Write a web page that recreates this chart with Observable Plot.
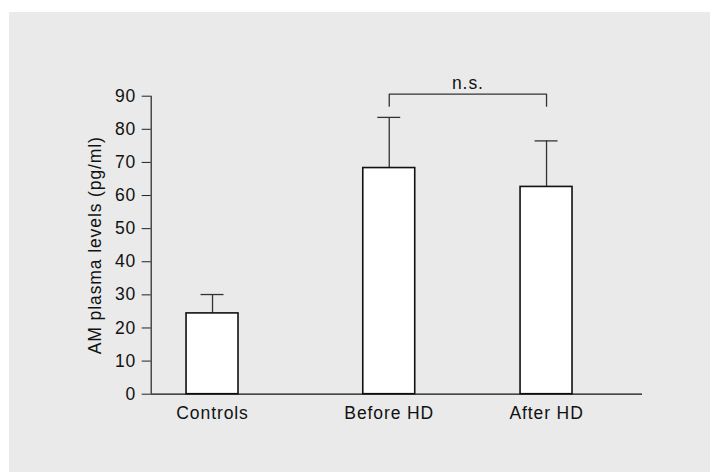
<!DOCTYPE html>
<html>
<head>
<meta charset="utf-8">
<script src="https://cdn.jsdelivr.net/npm/d3@7"></script>
<script src="https://cdn.jsdelivr.net/npm/@observablehq/plot@0.6"></script>
<style>
  html, body { margin: 0; padding: 0; background: #ffffff; }
  #wrap { position: absolute; left: 9px; top: 12px; width: 701px; height: 460px; background: #eaeaea; }
  svg { display: block; }
  #wrap svg text { font-size: 17.5px; letter-spacing: 0.9px; fill: #111; }
</style>
</head>
<body>
<div id="wrap"></div>
<script>
// Data
const groups = ["Controls", "Before HD", "After HD"];
const positions = [1, 2, 2.89];
const means = [24.4, 68.3, 62.6];
const sdUpper = [30.1, 83.6, 76.5];
const yTicks = [0, 10, 20, 30, 40, 50, 60, 70, 80, 90];
const compareFrom = 1, compareTo = 2;
const bracketLevel = 90.6, bracketDrop = 87, bracketLabel = "n.s.";
const yLabel = "AM plasma levels (pg/ml)";

const barHalf = 0.147, capHalf = 0.065;
const xDomain = [0.653, 3.433];

const rows = groups.map((g, i) => ({g, x: positions[i], m: means[i], hi: sdUpper[i]}));
const bx1 = positions[compareFrom], bx2 = positions[compareTo];

const chart = Plot.plot({
  width: 701,
  height: 460,
  marginLeft: 141.7,
  marginRight: 68,
  marginTop: 83.7,
  marginBottom: 78.3,
  style: {background: "transparent", fontFamily: "'Liberation Sans', Arial, sans-serif", fontSize: "17.5px", color: "#111"},
  x: {type: "linear", domain: xDomain},
  y: {domain: [0, 90]},
  marks: [
    // error bars
    Plot.ruleX(rows, {x: "x", y1: "m", y2: "hi", stroke: "#333", strokeWidth: 1.3}),
    Plot.ruleY(rows, {y: "hi", x1: d => d.x - capHalf, x2: d => d.x + capHalf, stroke: "#333", strokeWidth: 1.3}),
    // bars
    Plot.rect(rows, {x1: d => d.x - barHalf, x2: d => d.x + barHalf, y1: 0, y2: "m", fill: "white", stroke: "#111", strokeWidth: 1.6}),
    // axes lines
    Plot.ruleY([0], {stroke: "#111", strokeWidth: 1.2}),
    Plot.ruleX([xDomain[0]], {y1: 0, y2: 90, stroke: "#222", strokeWidth: 1.2}),
    Plot.axisY({ticks: yTicks, tickSize: 9, tickPadding: 6, label: null, stroke: "#222", fontSize: 17.5}),
    Plot.axisX({ticks: positions, tickFormat: d => groups[positions.indexOf(d)], tickSize: 0, tickPadding: 12, label: null, fontSize: 17.5}),
    // y label
    Plot.text([yLabel], {frameAnchor: "left", textAnchor: "middle", rotate: -90, dx: -55.7, text: d => d, fontSize: 17.5}),
    // significance bracket
    Plot.line([{x: bx1, y: bracketDrop}, {x: bx1, y: bracketLevel}, {x: bx2, y: bracketLevel}, {x: bx2, y: bracketDrop}], {x: "x", y: "y", stroke: "#333", strokeWidth: 1.3}),
    Plot.text([bracketLabel], {x: (bx1 + bx2) / 2, y: 94, text: d => d, fontSize: 17.5})
  ]
});
document.getElementById("wrap").appendChild(chart);
</script>
</body>
</html>
